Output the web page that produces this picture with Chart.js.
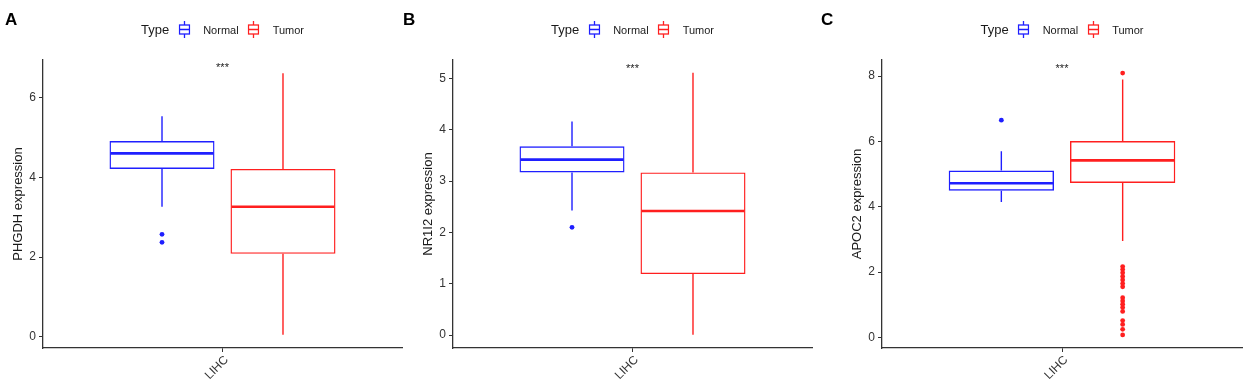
<!DOCTYPE html>
<html>
<head>
<meta charset="utf-8">
<script src="https://cdn.jsdelivr.net/npm/chart.js@4.4.1/dist/chart.umd.min.js"></script>
<style>
  body { margin: 0; background: #fff; }
  #wrap { position: relative; width: 1248px; height: 391px; font-family: "Liberation Sans", Arial, sans-serif; }
  .panel { position: absolute; top: 0; height: 391px; }
  .letter { position: absolute; top: 10px; font-size: 17px; font-weight: bold; color: #000; line-height: 20px; }
  .legend { position: absolute; top: 21px; transform: translateX(-50%); display: flex; align-items: center; white-space: nowrap; color: #1a1a1a; }
  .legend .ttl { font-size: 13px; margin-right: 9px; }
  .legend .lab { font-size: 11px; margin-left: 13px; margin-right: 9px; }
  .legend svg { display: block; }
</style>
</head>
<body>
<div id="wrap"></div>
<script>
"use strict";

// categories
const cancer = ['LIHC'];
const groups = ['Normal', 'Tumor'];
const groupColors = ['#1f1fff', '#ff1f1f'];
const genes = ['PHGDH', 'NR1I2', 'APOC2'];
const letters = ['A', 'B', 'C'];

// box stats: [lower whisker, q1, median, q3, upper whisker]
const phgdhNormal = [3.26, 4.21, 4.60, 4.91, 5.53];
const phgdhTumor = [0.05, 2.08, 3.26, 4.21, 6.61];
const phgdhNormalOut = [2.57, 2.37];
const phgdhTumorOut = [];

const nr1i2Normal = [2.43, 3.17, 3.42, 3.68, 4.16];
const nr1i2Tumor = [0.01, 1.19, 2.42, 3.17, 5.11];
const nr1i2NormalOut = [2.10];
const nr1i2TumorOut = [];

const apoc2Normal = [4.15, 4.49, 4.72, 5.11, 5.70];
const apoc2Tumor = [2.95, 4.73, 5.42, 6.01, 7.89];
const apoc2NormalOut = [6.65];
const apoc2TumorOut = [8.09, 2.17, 2.08, 1.98, 1.87, 1.76, 1.65, 1.55, 1.22, 1.12, 1.02, 0.92, 0.80, 0.52, 0.40, 0.25, 0.08];

// y axis
const phgdhTicks = [0, 2, 4, 6];
const nr1i2Ticks = [0, 1, 2, 3, 4, 5];
const apoc2Ticks = [0, 2, 4, 6, 8];
const yMin = [-0.28, -0.25, -0.32];
const yMax = [6.94, 5.36, 8.49];

// significance label
const sigText = ['***', '***', '***'];
const sigY = [6.81, 5.24, 8.31];

const statsByGene = [
  [phgdhNormal, phgdhTumor], [nr1i2Normal, nr1i2Tumor], [apoc2Normal, apoc2Tumor]
];
const outByGene = [
  [phgdhNormalOut, phgdhTumorOut], [nr1i2NormalOut, nr1i2TumorOut], [apoc2NormalOut, apoc2TumorOut]
];
const ticksByGene = [phgdhTicks, nr1i2Ticks, apoc2Ticks];

// panel layout
const panelLeft = [0, 410, 820];
const panelWidth = [410, 410, 428];
const padLeft = [11, 11, 30];
const padRight = [8, 8, 6];
const letterLeft = [5, 403, 821];

/* whiskers, medians, outliers, significance */
const boxExtras = {
  id: 'boxExtras',
  afterDatasetsDraw(chart, args, opts) {
    const ctx = chart.ctx;
    const y = chart.scales.y;
    const x = chart.scales.x;
    chart.data.datasets.forEach((ds, i) => {
      const bar = chart.getDatasetMeta(i).data[0].getProps(['x', 'width'], true);
      const s = ds.stats;
      const half = bar.width / 2;
      ctx.save();
      ctx.strokeStyle = ds.borderColor;
      ctx.fillStyle = ds.borderColor;
      ctx.lineWidth = 1.4;
      ctx.beginPath();
      ctx.moveTo(bar.x, y.getPixelForValue(s[3]));
      ctx.lineTo(bar.x, y.getPixelForValue(s[4]));
      ctx.moveTo(bar.x, y.getPixelForValue(s[1]));
      ctx.lineTo(bar.x, y.getPixelForValue(s[0]));
      ctx.stroke();
      ctx.lineWidth = 2.6;
      ctx.beginPath();
      ctx.moveTo(bar.x - half + 1, y.getPixelForValue(s[2]));
      ctx.lineTo(bar.x + half - 1, y.getPixelForValue(s[2]));
      ctx.stroke();
      ds.outliers.forEach(v => {
        ctx.beginPath();
        ctx.arc(bar.x, y.getPixelForValue(v), 2.4, 0, Math.PI * 2);
        ctx.fill();
      });
      ctx.restore();
    });
    ctx.save();
    ctx.fillStyle = '#222';
    ctx.font = '11px "Liberation Sans", Arial, sans-serif';
    ctx.textAlign = 'center';
    ctx.textBaseline = 'middle';
    ctx.fillText(opts.text, x.getPixelForValue(0), y.getPixelForValue(opts.y) + 3);
    ctx.restore();
  }
};

function legendIcon(color) {
  return '<svg width="12" height="17" viewBox="0 0 12 17">' +
    '<line x1="6" y1="0" x2="6" y2="4" stroke="' + color + '" stroke-width="1.3"/>' +
    '<rect x="1" y="4" width="10" height="9" fill="none" stroke="' + color + '" stroke-width="1.3"/>' +
    '<line x1="1" y1="8.5" x2="11" y2="8.5" stroke="' + color + '" stroke-width="1.6"/>' +
    '<line x1="6" y1="13" x2="6" y2="17" stroke="' + color + '" stroke-width="1.3"/>' +
    '</svg>';
}

const wrap = document.getElementById('wrap');

genes.forEach((gene, g) => {
  const panel = document.createElement('div');
  panel.className = 'panel';
  panel.style.left = panelLeft[g] + 'px';
  panel.style.width = panelWidth[g] + 'px';
  const canvas = document.createElement('canvas');
  canvas.width = panelWidth[g];
  canvas.height = 391;
  panel.appendChild(canvas);
  wrap.appendChild(panel);

  const letter = document.createElement('div');
  letter.className = 'letter';
  letter.style.left = letterLeft[g] + 'px';
  letter.textContent = letters[g];
  wrap.appendChild(letter);

  new Chart(canvas, {
    type: 'bar',
    data: {
      labels: cancer,
      datasets: groups.map((name, k) => ({
        label: name,
        data: [[statsByGene[g][k][1], statsByGene[g][k][3]]],
        stats: statsByGene[g][k],
        outliers: outByGene[g][k],
        backgroundColor: 'rgba(255,255,255,0)',
        borderColor: groupColors[k],
        borderWidth: 1.4,
        borderSkipped: false,
        categoryPercentage: 0.674,
        barPercentage: 0.868
      }))
    },
    options: {
      responsive: false,
      animation: false,
      devicePixelRatio: 1,
      layout: { padding: { top: 60, bottom: 0, left: padLeft[g], right: padRight[g] } },
      plugins: {
        legend: { display: false },
        tooltip: { enabled: false },
        boxExtras: { text: sigText[g], y: sigY[g] }
      },
      scales: {
        x: {
          grid: {
            offset: false, drawOnChartArea: false, drawTicks: true, tickLength: 4,
            color: c => (c.index === 0 ? '#333' : 'rgba(0,0,0,0)')
          },
          border: { display: true, color: '#333', width: 1.3 },
          ticks: { color: '#333', font: { size: 12, family: '"Liberation Sans", Arial' }, minRotation: 45, maxRotation: 45, padding: 1, labelOffset: 4 },
          afterFit: s => { s.height = 43; }
        },
        y: {
          min: yMin[g],
          max: yMax[g],
          afterBuildTicks: s => { s.ticks = ticksByGene[g].map(v => ({ value: v })); },
          grid: { drawOnChartArea: false, drawTicks: true, tickLength: 4, color: '#333' },
          border: { display: true, color: '#333', width: 1.3 },
          ticks: { color: '#333', font: { size: 12, family: '"Liberation Sans", Arial' }, padding: 3 },
          title: { display: true, text: gene + ' expression', color: '#1a1a1a', font: { size: 13, family: '"Liberation Sans", Arial' }, padding: 0 },
          afterFit: s => { s.width = 32; }
        }
      }
    },
    plugins: [boxExtras]
  });

  // legend centred on the plot area
  const lg = document.createElement('div');
  lg.className = 'legend';
  const plotLeft = panelLeft[g] + padLeft[g] + 32;
  const plotRight = panelLeft[g] + panelWidth[g] - padRight[g];
  lg.style.left = ((plotLeft + plotRight) / 2) + 'px';
  let html = '<span class="ttl">Type</span>';
  groups.forEach((name, k) => {
    html += legendIcon(groupColors[k]) + '<span class="lab"' + (k === groups.length - 1 ? ' style="margin-right:0"' : '') + '>' + name + '</span>';
  });
  lg.innerHTML = html;
  wrap.appendChild(lg);
});
</script>
</body>
</html>
